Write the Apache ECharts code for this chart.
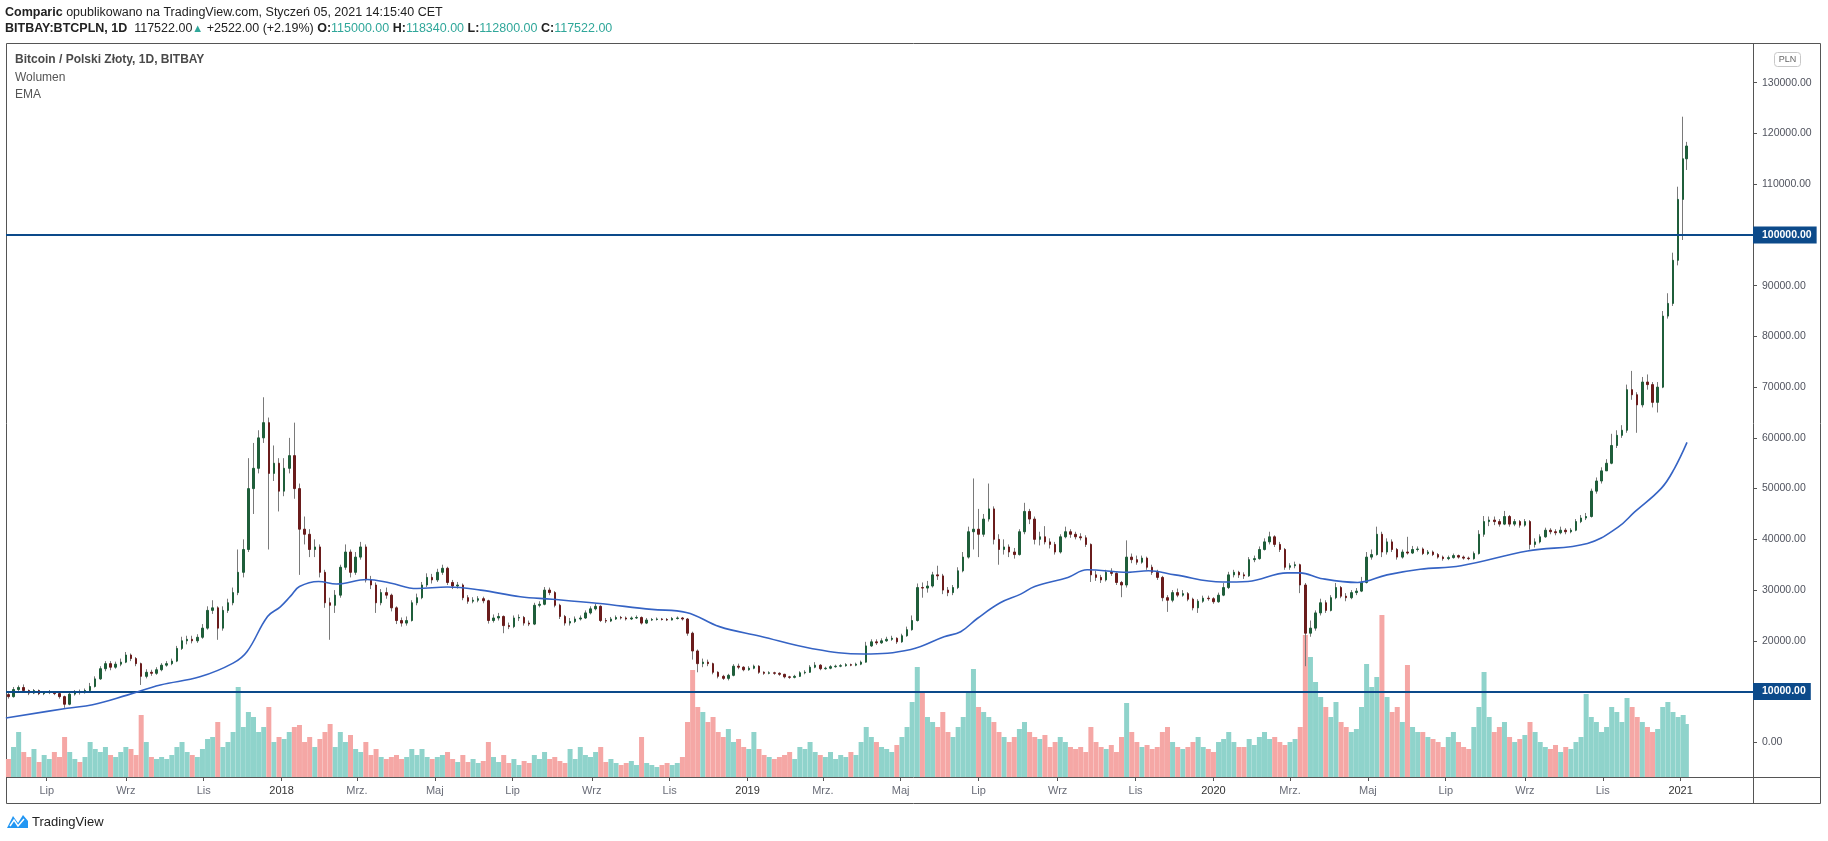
<!DOCTYPE html>
<html>
<head>
<meta charset="utf-8">
<title>BITBAY:BTCPLN, 1D</title>
<script src="https://cdn.jsdelivr.net/npm/echarts@6/dist/echarts.min.js"></script>
<style>
	html, body { margin: 0; padding: 0; background: #fff; }
	#chart { width: 1828px; height: 841px; }
</style>
</head>
<body>
<div id="chart"></div>
<script>
// BTC/PLN, 4-dniowe świece (tys. PLN), pierwsza zaczyna się 2017-05-30
let firstCandleDay = -216 // dni od 2018-01-01
let candleStep = 4

let opens = [
	9.4, 9.0, 10.4, 10.8, 10.2, 9.7, 10.2, 9.6, 9.8, 9.9,
	9.6, 9.0, 7.5, 9.5, 10.0, 9.8, 10.2, 11.0, 12.5, 14.5,
	15.5, 14.8, 15.4, 15.8, 17.2, 16.5, 15.5, 13.0, 13.8, 13.6,
	14.3, 15.2, 15.5, 16.0, 18.5, 20.0, 20.3, 20.0, 20.7, 22.5,
	26.0, 26.5, 22.5, 26.0, 27.5, 29.5, 33.5, 38.0, 50.0, 54.0,
	60.0, 63.0, 53.0, 55.0, 49.5, 54.0, 56.5, 50.0, 42.0, 41.0,
	38.0, 38.5, 33.5, 27.5, 27.0, 29.0, 34.5, 37.5, 33.5, 36.5,
	38.5, 32.0, 31.0, 27.5, 29.5, 29.0, 26.5, 24.0, 23.5, 24.0,
	27.5, 28.5, 31.0, 32.5, 32.0, 33.5, 34.3, 31.5, 30.8, 31.0,
	28.5, 27.8, 28.0, 28.3, 27.9, 24.0, 24.5, 24.8, 23.0, 22.8,
	24.5, 24.6, 23.5, 23.3, 27.0, 27.2, 30.0, 29.5, 27.0, 24.8,
	23.5, 23.8, 24.3, 24.5, 25.5, 26.3, 26.8, 24.0, 23.9, 24.3,
	24.6, 24.5, 24.3, 24.5, 24.6, 23.5, 24.1, 24.2, 24.3, 24.2,
	24.1, 24.4, 24.5, 24.3, 21.5, 18.0, 15.5, 15.8, 15.5, 13.8,
	13.0, 12.6, 13.2, 15.0, 14.8, 14.3, 14.6, 15.0, 13.8, 13.6,
	13.7, 13.6, 13.4, 12.9, 12.8, 13.0, 13.7, 13.8, 14.8, 15.2,
	14.5, 14.6, 14.9, 15.0, 15.1, 15.3, 15.2, 15.4, 15.8, 19.0,
	19.8, 19.6, 20.0, 20.3, 20.5, 19.8, 21.0, 22.2, 24.0, 30.5,
	30.4, 30.8, 33.0, 32.8, 30.0, 29.5, 30.5, 33.8, 36.5, 41.5,
	42.0, 41.0, 44.0, 46.0, 40.0, 38.0, 38.5, 37.5, 37.0, 41.5,
	45.5, 44.0, 40.0, 40.5, 39.5, 39.0, 37.5, 40.5, 41.5, 41.0,
	40.5, 40.3, 39.0, 33.0, 32.5, 32.0, 33.5, 33.3, 31.5, 31.0,
	36.5, 36.0, 35.5, 36.3, 34.5, 33.5, 32.5, 28.5, 28.0, 29.5,
	29.0, 29.3, 28.2, 26.5, 27.8, 28.4, 28.3, 27.7, 29.0, 30.5,
	33.0, 33.5, 33.0, 32.8, 36.0, 36.2, 38.0, 39.5, 40.5, 39.0,
	38.0, 34.5, 34.8, 35.0, 31.0, 21.5, 22.5, 25.5, 27.5, 26.0,
	28.5, 30.5, 28.8, 28.5, 29.5, 29.8, 31.5, 36.5, 37.0, 41.0,
	37.5, 39.5, 38.0, 36.5, 37.5, 37.3, 38.0, 38.1, 37.2, 37.5,
	37.0, 36.5, 36.2, 36.4, 36.8, 36.5, 36.3, 36.2, 37.2, 41.0,
	43.5, 43.8, 43.5, 43.0, 44.5, 43.0, 43.5, 42.8, 43.5, 39.0,
	39.5, 40.5, 41.8, 41.5, 41.3, 41.8, 41.5, 41.8, 43.5, 44.2,
	44.5, 49.5, 51.5, 53.5, 55.0, 58.5, 60.5, 61.5, 69.5, 68.5,
	66.5, 71.0, 70.5, 67.0, 70.0, 84.0, 86.5, 95.0, 107.0, 115.0
]
let highs = [
	9.8, 10.9, 11.2, 11.4, 10.4, 10.5, 10.4, 10.1, 10.3, 10.1,
	9.8, 9.2, 9.8, 10.3, 10.4, 10.6, 11.7, 13.0, 15.0, 16.0,
	16.0, 15.9, 16.5, 17.8, 17.5, 16.8, 15.7, 14.4, 14.3, 14.8,
	15.6, 16.0, 16.5, 19.0, 20.8, 21.0, 21.0, 21.3, 23.3, 26.8,
	28.0, 26.8, 26.8, 28.3, 30.5, 38.0, 40.0, 56.0, 59.0, 61.5,
	68.0, 64.0, 58.5, 56.0, 56.0, 60.0, 63.0, 51.0, 44.5, 42.0,
	40.0, 39.0, 34.0, 28.5, 30.0, 35.0, 39.0, 38.0, 37.5, 39.5,
	39.0, 32.8, 31.5, 30.2, 30.5, 29.3, 26.8, 24.6, 24.8, 28.0,
	29.3, 31.6, 33.3, 33.2, 34.2, 35.0, 34.6, 32.0, 31.6, 31.3,
	29.0, 28.6, 28.8, 28.7, 28.1, 25.2, 25.5, 25.0, 23.6, 25.0,
	25.2, 24.9, 24.0, 27.5, 27.8, 30.6, 30.5, 29.8, 27.3, 25.1,
	24.5, 24.8, 25.0, 26.0, 26.8, 27.3, 27.0, 24.5, 24.7, 25.0,
	24.9, 24.8, 24.8, 25.0, 24.8, 24.5, 24.5, 24.6, 24.5, 24.5,
	24.7, 24.8, 24.7, 24.5, 21.8, 18.3, 16.5, 16.3, 15.7, 14.0,
	13.3, 13.5, 15.4, 15.5, 15.0, 15.0, 15.3, 15.2, 14.0, 14.0,
	13.9, 13.8, 13.5, 13.1, 13.3, 14.0, 14.2, 15.2, 15.8, 15.4,
	14.9, 15.2, 15.3, 15.4, 15.6, 15.5, 15.7, 16.1, 19.8, 20.3,
	20.3, 20.5, 20.8, 21.0, 20.7, 21.4, 22.8, 25.0, 31.3, 31.5,
	31.8, 33.6, 34.8, 33.2, 30.6, 31.0, 34.5, 37.5, 42.5, 52.0,
	46.0, 45.0, 51.0, 46.5, 41.0, 40.0, 39.0, 38.3, 42.0, 47.2,
	46.0, 44.5, 41.5, 42.6, 40.2, 39.5, 41.0, 42.5, 42.0, 41.5,
	41.2, 40.8, 39.2, 33.8, 33.0, 34.0, 34.3, 33.5, 31.8, 39.8,
	37.2, 36.8, 36.8, 36.6, 35.0, 34.0, 32.8, 29.0, 30.0, 30.3,
	30.0, 29.6, 28.5, 28.2, 28.9, 28.9, 28.6, 29.5, 31.4, 33.6,
	34.0, 33.8, 33.5, 36.5, 36.8, 38.6, 40.2, 41.5, 40.8, 39.5,
	38.3, 35.3, 35.6, 35.2, 31.4, 24.0, 26.0, 28.3, 28.0, 29.0,
	31.4, 30.8, 29.4, 30.0, 30.4, 32.6, 37.5, 38.0, 42.5, 41.5,
	40.2, 40.0, 38.3, 38.0, 40.5, 38.7, 38.6, 38.4, 37.9, 37.8,
	37.3, 36.8, 36.8, 37.2, 37.0, 36.8, 36.6, 37.6, 41.8, 44.6,
	44.5, 44.5, 44.0, 45.6, 44.8, 44.0, 43.8, 44.0, 43.8, 40.2,
	41.0, 42.3, 42.2, 42.0, 42.5, 42.2, 42.2, 44.0, 44.8, 45.2,
	50.0, 52.2, 54.2, 55.8, 60.8, 61.5, 62.5, 70.5, 73.2, 69.0,
	72.0, 72.5, 71.0, 71.0, 85.0, 88.5, 96.5, 109.5, 123.3, 118.34
]
let lows = [
	8.6, 8.8, 10.1, 9.9, 9.3, 9.5, 9.3, 9.3, 9.5, 9.3,
	8.6, 6.8, 7.3, 9.2, 9.4, 9.6, 10.0, 10.8, 12.3, 14.0,
	14.2, 14.5, 15.0, 15.6, 16.0, 15.0, 11.3, 12.6, 13.1, 13.3,
	14.0, 14.9, 15.2, 15.8, 18.2, 19.3, 19.5, 19.6, 20.4, 22.2,
	25.3, 20.2, 22.0, 25.5, 27.0, 29.0, 32.5, 37.5, 45.0, 53.0,
	59.0, 38.0, 51.5, 45.5, 48.5, 53.0, 48.0, 33.0, 39.0, 36.5,
	36.5, 32.5, 26.5, 20.2, 25.5, 28.5, 34.0, 32.5, 33.0, 36.0,
	31.5, 30.2, 25.5, 27.0, 28.3, 25.8, 23.3, 22.8, 23.0, 23.8,
	27.0, 28.2, 30.6, 31.3, 31.6, 33.0, 31.0, 30.2, 30.3, 28.0,
	27.3, 27.4, 27.6, 27.4, 23.4, 23.6, 24.0, 21.5, 22.3, 22.5,
	23.9, 23.0, 22.9, 23.1, 26.6, 27.0, 29.0, 26.6, 24.3, 23.0,
	23.0, 23.5, 24.0, 24.3, 25.2, 26.0, 23.7, 23.5, 23.7, 24.1,
	24.2, 24.0, 24.1, 24.3, 23.2, 23.3, 23.9, 24.0, 24.0, 23.9,
	24.0, 24.2, 24.0, 21.0, 16.3, 13.8, 14.8, 15.0, 13.4, 12.6,
	12.3, 12.2, 13.0, 14.4, 14.0, 14.1, 14.4, 13.5, 13.3, 13.4,
	13.3, 13.1, 12.6, 12.5, 12.6, 12.9, 13.4, 13.7, 14.6, 14.2,
	14.3, 14.4, 14.7, 14.8, 14.9, 15.0, 15.0, 15.2, 15.7, 18.8,
	19.2, 19.4, 19.8, 20.0, 19.4, 19.6, 20.8, 22.0, 23.8, 28.5,
	29.5, 30.5, 32.0, 29.2, 28.8, 29.0, 30.2, 33.5, 36.2, 38.0,
	36.5, 40.5, 43.5, 39.0, 35.0, 37.0, 36.5, 36.2, 36.8, 41.0,
	43.0, 39.0, 38.8, 39.0, 38.2, 37.0, 37.2, 40.2, 40.3, 40.0,
	39.8, 38.5, 31.6, 31.8, 31.4, 31.7, 32.8, 31.0, 28.6, 30.5,
	35.3, 35.0, 35.2, 34.0, 33.0, 32.0, 27.8, 25.7, 27.6, 28.6,
	28.7, 27.8, 26.0, 25.5, 27.5, 27.9, 27.3, 27.5, 28.8, 30.2,
	32.5, 32.4, 32.2, 32.6, 35.5, 36.0, 37.8, 39.0, 38.5, 37.5,
	34.0, 34.0, 34.3, 29.4, 15.0, 20.8, 22.0, 25.0, 25.5, 25.8,
	28.2, 28.4, 27.8, 28.2, 29.0, 29.6, 31.3, 36.0, 36.8, 36.5,
	37.0, 37.5, 36.0, 36.2, 37.0, 37.1, 37.6, 36.9, 36.9, 36.7,
	36.2, 35.8, 35.9, 36.2, 36.2, 36.0, 35.9, 36.0, 37.0, 40.5,
	42.6, 42.8, 42.5, 42.8, 42.5, 42.6, 42.3, 42.5, 38.0, 38.4,
	39.2, 40.3, 41.0, 40.8, 41.0, 41.0, 41.2, 41.6, 43.2, 43.8,
	44.3, 49.0, 51.0, 53.5, 54.8, 58.0, 60.0, 61.0, 67.5, 61.0,
	66.0, 69.5, 66.0, 65.0, 69.8, 83.5, 86.0, 94.0, 99.0, 112.8
]
let closes = [
	9.0, 10.4, 10.8, 10.2, 9.7, 10.2, 9.6, 9.8, 9.9, 9.6,
	9.0, 7.5, 9.5, 10.0, 9.8, 10.2, 11.0, 12.5, 14.5, 15.5,
	14.8, 15.4, 15.8, 17.2, 16.5, 15.5, 13.0, 13.8, 13.6, 14.3,
	15.2, 15.5, 16.0, 18.5, 20.0, 20.3, 20.0, 20.7, 22.5, 26.0,
	26.5, 22.5, 26.0, 27.5, 29.5, 33.5, 38.0, 50.0, 54.0, 60.0,
	63.0, 53.0, 55.0, 49.5, 54.0, 56.5, 50.0, 42.0, 41.0, 38.0,
	38.5, 33.5, 27.5, 27.0, 29.0, 34.5, 37.5, 33.5, 36.5, 38.5,
	32.0, 31.0, 27.5, 29.5, 29.0, 26.5, 24.0, 23.5, 24.0, 27.5,
	28.5, 31.0, 32.5, 32.0, 33.5, 34.3, 31.5, 30.8, 31.0, 28.5,
	27.8, 28.0, 28.3, 27.9, 24.0, 24.5, 24.8, 23.0, 22.8, 24.5,
	24.6, 23.5, 23.3, 27.0, 27.2, 30.0, 29.5, 27.0, 24.8, 23.5,
	23.8, 24.3, 24.5, 25.5, 26.3, 26.8, 24.0, 23.9, 24.3, 24.6,
	24.5, 24.3, 24.5, 24.6, 23.5, 24.1, 24.2, 24.3, 24.2, 24.1,
	24.4, 24.5, 24.3, 21.5, 18.0, 15.5, 15.8, 15.5, 13.8, 13.0,
	12.6, 13.2, 15.0, 14.8, 14.3, 14.6, 15.0, 13.8, 13.6, 13.7,
	13.6, 13.4, 12.9, 12.8, 13.0, 13.7, 13.8, 14.8, 15.2, 14.5,
	14.6, 14.9, 15.0, 15.1, 15.3, 15.2, 15.4, 15.8, 19.0, 19.8,
	19.6, 20.0, 20.3, 20.5, 19.8, 21.0, 22.2, 24.0, 30.5, 30.4,
	30.8, 33.0, 32.8, 30.0, 29.5, 30.5, 33.8, 36.5, 41.5, 42.0,
	41.0, 44.0, 46.0, 40.0, 38.0, 38.5, 37.5, 37.0, 41.5, 45.5,
	44.0, 40.0, 40.5, 39.5, 39.0, 37.5, 40.5, 41.5, 41.0, 40.5,
	40.3, 39.0, 33.0, 32.5, 32.0, 33.5, 33.3, 31.5, 31.0, 36.5,
	36.0, 35.5, 36.3, 34.5, 33.5, 32.5, 28.5, 28.0, 29.5, 29.0,
	29.3, 28.2, 26.5, 27.8, 28.4, 28.3, 27.7, 29.0, 30.5, 33.0,
	33.5, 33.0, 32.8, 36.0, 36.2, 38.0, 39.5, 40.5, 39.0, 38.0,
	34.5, 34.8, 35.0, 31.0, 21.5, 22.5, 25.5, 27.5, 26.0, 28.5,
	30.5, 28.8, 28.5, 29.5, 29.8, 31.5, 36.5, 37.0, 41.0, 37.5,
	39.5, 38.0, 36.5, 37.5, 37.3, 38.0, 38.1, 37.2, 37.5, 37.0,
	36.5, 36.2, 36.4, 36.8, 36.5, 36.3, 36.2, 37.2, 41.0, 43.5,
	43.8, 43.5, 43.0, 44.5, 43.0, 43.5, 42.8, 43.5, 39.0, 39.5,
	40.5, 41.8, 41.5, 41.3, 41.8, 41.5, 41.8, 43.5, 44.2, 44.5,
	49.5, 51.5, 53.5, 55.0, 58.5, 60.5, 61.5, 69.5, 68.5, 66.5,
	71.0, 70.5, 67.0, 70.0, 84.0, 86.5, 95.0, 107.0, 115.0, 117.522
]
// wolumen (jednostki względne)
let volumes = [
	18, 30, 45, 25, 20, 28, 15, 22, 18, 25,
	20, 40, 25, 18, 15, 20, 35, 28, 25, 30,
	22, 20, 25, 30, 28, 22, 62, 35, 20, 18,
	20, 18, 22, 30, 35, 25, 22, 20, 28, 38,
	40, 55, 30, 35, 45, 90, 50, 65, 60, 45,
	50, 70, 35, 40, 38, 45, 50, 52, 35, 40,
	30, 38, 45, 53, 30, 45, 35, 42, 28, 25,
	35, 22, 28, 20, 18, 20, 22, 18, 20, 28,
	22, 28, 20, 18, 20, 22, 25, 18, 15, 22,
	15, 18, 14, 16, 35, 20, 15, 22, 14, 18,
	12, 16, 14, 22, 18, 25, 18, 20, 16, 14,
	28, 18, 30, 22, 20, 25, 30, 15, 18, 14,
	12, 14, 16, 12, 40, 14, 12, 10, 12, 14,
	12, 14, 20, 55, 107, 70, 65, 55, 60, 45,
	40, 48, 35, 38, 30, 28, 45, 28, 22, 20,
	18, 20, 22, 25, 18, 30, 28, 35, 25, 22,
	20, 25, 18, 22, 20, 25, 22, 35, 50, 40,
	35, 30, 28, 25, 32, 40, 50, 75, 110, 85,
	60, 55, 50, 65, 45, 40, 50, 60, 85, 108,
	70, 65, 60, 55, 45, 40, 35, 40, 48, 55,
	45, 40, 38, 42, 30, 35, 40, 35, 30, 28,
	30, 25, 50, 35, 30, 28, 32, 25, 40, 74,
	45, 35, 30, 32, 28, 30, 45, 50, 35, 30,
	28, 30, 35, 40, 30, 28, 25, 35, 38, 45,
	35, 30, 30, 38, 32, 40, 45, 38, 40, 35,
	32, 35, 38, 50, 142, 120, 95, 80, 70, 60,
	75, 55, 50, 45, 48, 70, 113, 90, 100, 162,
	80, 65, 70, 55, 112, 50, 45, 45, 40, 38,
	35, 30, 40, 45, 35, 30, 28, 50, 70, 105,
	60, 45, 50, 55, 40, 35, 38, 42, 55, 45,
	35, 30, 28, 32, 25, 30, 28, 35, 40, 83,
	60, 55, 45, 50, 70, 65, 55, 79, 70, 60,
	55, 50, 45, 48, 70, 75, 65, 60, 62, 53
]

// EMA (dni od 2018-01-01, tys. PLN)
let emaDays = [-216, -168, -148, -121, -95, -64, -38, -27, -11, -1, 7, 14, 29, 43, 67, 85, 106, 130, 156, 187, 212, 247, 290, 317, 343, 375, 415, 456, 493, 519, 532, 545, 563, 579, 590, 616, 631, 663, 679, 700, 737, 757, 788, 798, 814, 843, 866, 892, 924, 976, 1023, 1047, 1060, 1081, 1091, 1101]
let emaValues = [4.8, 6.7, 7.4, 9.3, 11.3, 12.9, 15.6, 17.9, 24.8, 26.7, 28.8, 30.7, 31.7, 31.2, 32.1, 31.4, 30.3, 30.6, 30.0, 28.7, 28.2, 27.4, 26.2, 25.6, 22.8, 20.9, 18.5, 17.4, 18.3, 20.8, 21.8, 24.4, 27.5, 29.2, 30.7, 32.5, 34.0, 33.5, 33.8, 33.0, 31.6, 31.7, 33.4, 33.4, 32.3, 31.5, 33.0, 34.1, 34.8, 37.7, 39.2, 42.4, 45.4, 50.1, 53.9, 59.1]

let tickDates = ["2017-07-01", "2017-09-01", "2017-11-01", "2018-01-01", "2018-03-01", "2018-05-01", "2018-07-01", "2018-09-01", "2018-11-01", "2019-01-01", "2019-03-01", "2019-05-01", "2019-07-01", "2019-09-01", "2019-11-01", "2020-01-01", "2020-03-01", "2020-05-01", "2020-07-01", "2020-09-01", "2020-11-01", "2021-01-01"]
let tickLabels = ["Lip", "Wrz", "Lis", "2018", "Mrz.", "Maj", "Lip", "Wrz", "Lis", "2019", "Mrz.", "Maj", "Lip", "Wrz", "Lis", "2020", "Mrz.", "Maj", "Lip", "Wrz", "Lis", "2021"]

let levelLines = [100000, 10000]
let lastPrice = 117522

let DAY = 86400000
let BASE = Date.UTC(2018, 0, 1)
let xMin = BASE - 215.9 * DAY
let xMax = BASE + 1152.7 * DAY
let font = "'Liberation Sans', Arial, sans-serif"

let times = closes.map(function (c, i) {
	let mid = (i == closes.length - 1) ? 0.5 : 2
	return BASE + (firstCandleDay + candleStep * i + mid) * DAY
})
let candles = closes.map(function (c, i) {
	return [times[i], opens[i] * 1000, c * 1000, lows[i] * 1000, highs[i] * 1000]
})
let bodies = closes.map(function (c, i) {
	return [times[i], opens[i] * 1000, c * 1000, Math.min(opens[i], c) * 1000, Math.max(opens[i], c) * 1000]
})
let volumeBars = volumes.map(function (v, i) {
	return {
		value: [times[i], v],
		itemStyle: {color: closes[i] >= opens[i] ? "#8fd3cb" : "#f5a7a5"}
	}
})
let emaLine = emaDays.map(function (d, i) {
	return [BASE + d * DAY, emaValues[i] * 1000]
})
let tickTimes = tickDates.map(function (s) {
	return Date.parse(s + "T00:00:00Z")
})

let chart = echarts.init(document.getElementById("chart"))
chart.setOption({
	animation: false,
	backgroundColor: "#ffffff",
	grid: [
		{left: 6, right: 75, top: 82.7, height: 659.6, outerBoundsMode: "none"},
		{left: 6, right: 75, top: 43, height: 734, outerBoundsMode: "none"}
	],
	xAxis: [
		{type: "value", gridIndex: 0, min: xMin, max: xMax, show: false},
		{
			type: "value",
			gridIndex: 1,
			min: xMin,
			max: xMax,
			axisLine: {show: false},
			splitLine: {show: false},
			axisTick: {show: true, length: 4, customValues: tickTimes, lineStyle: {color: "#555"}},
			axisLabel: {
				customValues: tickTimes,
				margin: 8,
				fontSize: 11,
				fontFamily: font,
				color: "#6a6d78",
				formatter: function (value) {
					let best = 0
					tickTimes.forEach(function (t, i) {
						if (Math.abs(t - value) < Math.abs(tickTimes[best] - value)) {
							best = i
						}
					})
					let s = tickLabels[best]
					return /^\d{4}$/.test(s) ? "{y|" + s + "}" : s
				},
				rich: {
					y: {fontSize: 11, fontFamily: font, color: "#333"}
				}
			}
		}
	],
	yAxis: [
		{
			type: "value",
			gridIndex: 0,
			position: "right",
			min: 0,
			max: 130000,
			interval: 10000,
			axisLine: {show: false},
			splitLine: {show: false},
			axisTick: {show: true, length: 4, lineStyle: {color: "#555"}},
			axisLabel: {
				margin: 9,
				fontSize: 10.5,
				fontFamily: font,
				color: "#50535e",
				formatter: function (v) {
					return v.toFixed(2)
				}
			}
		},
		{type: "value", gridIndex: 1, min: 0, max: 734, show: false}
	],
	series: [
		{
			name: "Wolumen",
			type: "bar",
			xAxisIndex: 1,
			yAxisIndex: 1,
			barWidth: 5,
			silent: true,
			data: volumeBars,
			z: 1
		},
		{
			name: "knoty",
			type: "candlestick",
			xAxisIndex: 0,
			yAxisIndex: 0,
			encode: {x: 0, y: [1, 2, 3, 4]},
			barWidth: 1,
			silent: true,
			itemStyle: {color: "#7a7a7a", color0: "#7a7a7a", borderColor: "#7a7a7a", borderColor0: "#7a7a7a", borderWidth: 1},
			data: candles,
			z: 3
		},
		{
			name: "Bitcoin / Polski Złoty",
			type: "candlestick",
			xAxisIndex: 0,
			yAxisIndex: 0,
			encode: {x: 0, y: [1, 2, 3, 4]},
			barWidth: 2,
			silent: true,
			itemStyle: {color: "#1f5e3a", color0: "#6a1c1c", borderColor: "#1f5e3a", borderColor0: "#6a1c1c", borderWidth: 1},
			data: bodies,
			z: 4
		},
		{
			name: "EMA",
			type: "line",
			xAxisIndex: 0,
			yAxisIndex: 0,
			smooth: 0.4,
			showSymbol: false,
			silent: true,
			clip: false,
			lineStyle: {color: "#3563c4", width: 1.6},
			data: emaLine,
			z: 5,
			markLine: {
				silent: true,
				symbol: ["none", "none"],
				animation: false,
				lineStyle: {color: "#0c4a8a", width: 2, type: "solid"},
				label: {
					show: true,
					position: "end",
					distance: 0,
					formatter: function (p) {
						return p.value.toFixed(2)
					},
					backgroundColor: "#0c4a8a",
					color: "#ffffff",
					fontFamily: font,
					fontSize: 10.5,
					fontWeight: "bold",
					padding: [3, 5, 3, 9]
				},
				data: levelLines.map(function (v) {
					return {yAxis: v}
				}).concat([{
					yAxis: lastPrice,
					lineStyle: {opacity: 0},
					label: {backgroundColor: "#6ba583", padding: [3, 11, 3, 9]}
				}])
			}
		}
	],
	graphic: [
		{
			type: "rect",
			shape: {x: 6.5, y: 43.5, width: 1814, height: 760},
			style: {fill: "none", stroke: "#555", lineWidth: 1},
			silent: true
		},
		{
			type: "line",
			shape: {x1: 1753.5, y1: 43.5, x2: 1753.5, y2: 803.5},
			style: {stroke: "#555", lineWidth: 1},
			silent: true
		},
		{
			type: "line",
			shape: {x1: 6.5, y1: 777.5, x2: 1820.5, y2: 777.5},
			style: {stroke: "#555", lineWidth: 1},
			silent: true
		},
		{
			type: "text",
			x: 5,
			y: 13,
			style: {
				text: "{b|Comparic} opublikowano na TradingView.com, Styczeń 05, 2021 14:15:40 CET",
				fontFamily: font,
				fontSize: 12.5,
				fill: "#222",
				verticalAlign: "middle",
				rich: {b: {fontWeight: "bold", fontFamily: font, fontSize: 12.5, fill: "#222"}}
			}
		},
		{
			type: "text",
			x: 5,
			y: 29,
			style: {
				text: "{b|BITBAY:BTCPLN, 1D}  117522.00{g|▲} +2522.00 (+2.19%) {b|O:}{t|115000.00} {b|H:}{t|118340.00} {b|L:}{t|112800.00} {b|C:}{t|117522.00}",
				fontFamily: font,
				fontSize: 12.5,
				fill: "#222",
				verticalAlign: "middle",
				rich: {
					b: {fontWeight: "bold", fontFamily: font, fontSize: 12.5, fill: "#222"},
					g: {fontFamily: font, fontSize: 11, fill: "#30a79a"},
					t: {fontFamily: font, fontSize: 12.5, fill: "#30a79a"}
				}
			}
		},
		{
			type: "text",
			x: 15,
			y: 60,
			style: {text: "Bitcoin / Polski Złoty, 1D, BITBAY", fontFamily: font, fontSize: 12, fontWeight: "bold", fill: "#4a4a4a", verticalAlign: "middle"}
		},
		{
			type: "text",
			x: 15,
			y: 77.5,
			style: {text: "Wolumen", fontFamily: font, fontSize: 12, fill: "#555", verticalAlign: "middle"}
		},
		{
			type: "text",
			x: 15,
			y: 95,
			style: {text: "EMA", fontFamily: font, fontSize: 12, fill: "#555", verticalAlign: "middle"}
		},
		{
			type: "rect",
			shape: {x: 1774.5, y: 52.5, width: 26, height: 14, r: 3},
			style: {fill: "#fff", stroke: "#c8c8c8", lineWidth: 1}
		},
		{
			type: "text",
			x: 1787.5,
			y: 60,
			style: {text: "PLN", fontFamily: font, fontSize: 9, fill: "#666", align: "center", verticalAlign: "middle"}
		},
		{
			type: "polygon",
			shape: {points: [[7, 828], [13, 816], [18, 823], [23, 815], [28, 821], [28, 828]]},
			style: {fill: "#2196f3"}
		},
		{
			type: "polyline",
			shape: {points: [[10, 826], [14, 820], [18, 826], [24, 819]]},
			style: {stroke: "#fff", lineWidth: 1.5, fill: "none"}
		},
		{
			type: "text",
			x: 32,
			y: 822,
			style: {text: "TradingView", fontFamily: font, fontSize: 13, fill: "#222", verticalAlign: "middle"}
		}
	]
})
</script>
</body>
</html>
